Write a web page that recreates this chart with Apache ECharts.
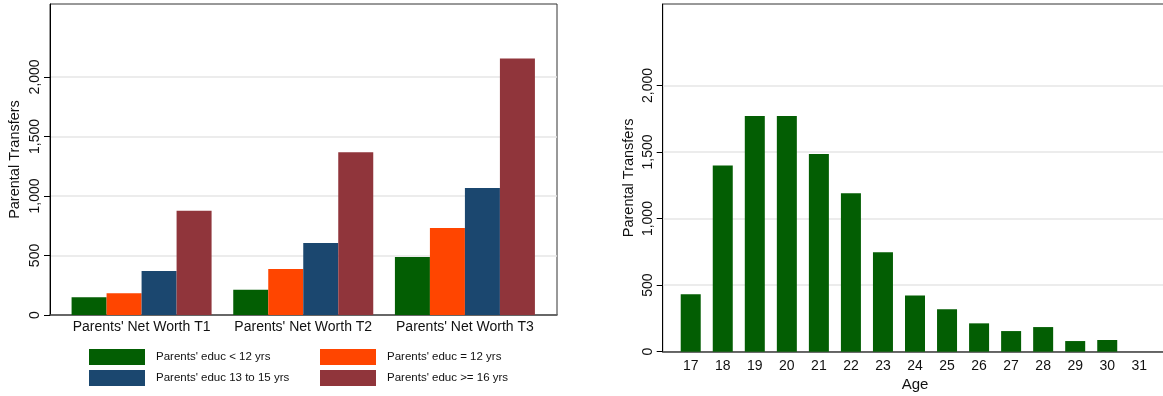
<!DOCTYPE html>
<html>
<head>
<meta charset="utf-8">
<script src="https://cdn.jsdelivr.net/npm/echarts@6/dist/echarts.min.js"></script>
<style>
html,body{margin:0;padding:0;background:#fff;}
#c{width:1163px;height:396px;}
</style>
</head>
<body>
<div id="c"></div>
<script>
// ---- data ----
const netWorthCategories = ["Parents' Net Worth T1", "Parents' Net Worth T2", "Parents' Net Worth T3"];
const seriesNames = ["Parents' educ < 12 yrs", "Parents' educ = 12 yrs", "Parents' educ 13 to 15 yrs", "Parents' educ >= 16 yrs"];
const educLt12 = [149, 213, 487];
const educEq12 = [182, 387, 731];
const educ13to15 = [370, 605, 1067];
const educGe16 = [876, 1367, 2154];

const ages = ['17','18','19','20','21','22','23','24','25','26','27','28','29','30','31'];
const transfersByAge = [431, 1398, 1771, 1771, 1485, 1190, 748, 423, 318, 213, 155, 185, 80, 88, 0];

const yTickValues = [0, 500, 1000, 1500, 2000];
const yMin = 0, yMax = 2612, yInterval = 500;

// ---- styles ----
const FONT = "'Liberation Sans', Arial, Helvetica, sans-serif";
const colors = ['#035e03', '#ff4500', '#1b476f', '#90353b'];
const fmt = v => Number(v).toLocaleString('en-US');
const gridColors = yTickValues.map(() => '#e6e6e6').concat(['rgba(0,0,0,0)', 'rgba(0,0,0,0)', 'rgba(0,0,0,0)']);

function frameY(gridIndex, nameGap) {
  return {
    type: 'value', gridIndex, min: yMin, max: yMax, interval: yInterval,
    name: 'Parental Transfers', nameLocation: 'middle', nameRotate: 90, nameGap,
    nameTextStyle: { fontFamily: FONT, fontSize: 14.5, color: '#111' },
    axisLine: { show: true, lineStyle: { color: '#000', width: 1 } },
    axisTick: { show: true, length: 6, customValues: yTickValues, lineStyle: { color: '#000' } },
    axisLabel: { rotate: 90, margin: 8, fontFamily: FONT, fontSize: 14, color: '#111', formatter: fmt,
      customValues: yTickValues },
    splitLine: { show: true, lineStyle: { color: gridColors, width: 1.5 } }
  };
}
function hiddenY(gridIndex) {
  return { type: 'value', gridIndex, min: yMin, max: yMax, interval: yInterval,
    axisLine: { show: false }, axisTick: { show: false }, axisLabel: { show: false }, splitLine: { show: false } };
}
function frameX(gridIndex) {
  return { type: 'value', gridIndex, min: 0, max: 1,
    axisLine: { show: true, onZero: false, lineStyle: { color: '#444', width: 1.5 } },
    axisTick: { show: false }, axisLabel: { show: false }, splitLine: { show: false } };
}

const legendText = { fontFamily: FONT, fontSize: 11.5, color: '#111', padding: [0, 0, 0, 6] };

const option = {
  backgroundColor: '#fff',
  animation: false,
  color: colors,
  grid: [
    { left: 50, top: 4, width: 507, height: 311, outerBoundsMode: 'none', containLabel: false, show: true, borderColor: '#333', borderWidth: 1, backgroundColor: 'transparent' },
    { left: 60.75, top: 4, width: 485, height: 311, outerBoundsMode: 'none', containLabel: false },
    { left: 662.7, top: 4, width: 520, height: 347.7, outerBoundsMode: 'none', containLabel: false, show: true, borderColor: '#333', borderWidth: 1, backgroundColor: 'transparent' },
    { left: 674.7, top: 4, width: 480.6, height: 347.7, outerBoundsMode: 'none', containLabel: false }
  ],
  xAxis: [
    frameX(0),
    { type: 'category', gridIndex: 1, data: netWorthCategories,
      axisLine: { show: false }, axisTick: { show: false },
      axisLabel: { margin: 5, interval: 0, fontFamily: FONT, fontSize: 14, color: '#111' } },
    frameX(2),
    { type: 'category', gridIndex: 3, data: ages,
      name: 'Age', nameLocation: 'middle', nameGap: 26,
      nameTextStyle: { fontFamily: FONT, fontSize: 15, color: '#111' },
      axisLine: { show: false }, axisTick: { show: false },
      axisLabel: { margin: 7, fontFamily: FONT, fontSize: 14, color: '#111', interval: 0 } }
  ],
  yAxis: [frameY(0, 28), hiddenY(1), frameY(2, 26), hiddenY(3)],
  legend: [
    { left: 89, top: 349, orient: 'vertical', itemWidth: 56, itemHeight: 16, itemGap: 5,
      icon: 'rect', data: [seriesNames[0], seriesNames[2]],
      textStyle: legendText, itemStyle: { borderWidth: 0 }, padding: 0 },
    { left: 320, top: 349, orient: 'vertical', itemWidth: 56, itemHeight: 16, itemGap: 5,
      icon: 'rect', data: [seriesNames[1], seriesNames[3]],
      textStyle: legendText, itemStyle: { borderWidth: 0 }, padding: 0 }
  ],
  series: [
    { name: seriesNames[0], type: 'bar', xAxisIndex: 1, yAxisIndex: 1, data: educLt12, barWidth: 35, barGap: '0%', itemStyle: { color: colors[0] } },
    { name: seriesNames[1], type: 'bar', xAxisIndex: 1, yAxisIndex: 1, data: educEq12, barWidth: 35, barGap: '0%', itemStyle: { color: colors[1] } },
    { name: seriesNames[2], type: 'bar', xAxisIndex: 1, yAxisIndex: 1, data: educ13to15, barWidth: 35, barGap: '0%', itemStyle: { color: colors[2] } },
    { name: seriesNames[3], type: 'bar', xAxisIndex: 1, yAxisIndex: 1, data: educGe16, barWidth: 35, barGap: '0%', itemStyle: { color: colors[3] } },
    { name: 'Age transfers', type: 'bar', xAxisIndex: 3, yAxisIndex: 3, data: transfersByAge, barWidth: 20, itemStyle: { color: colors[0] } }
  ]
};

const chart = echarts.init(document.getElementById('c'), null, { renderer: 'canvas' });
chart.setOption(option);
</script>
</body>
</html>
